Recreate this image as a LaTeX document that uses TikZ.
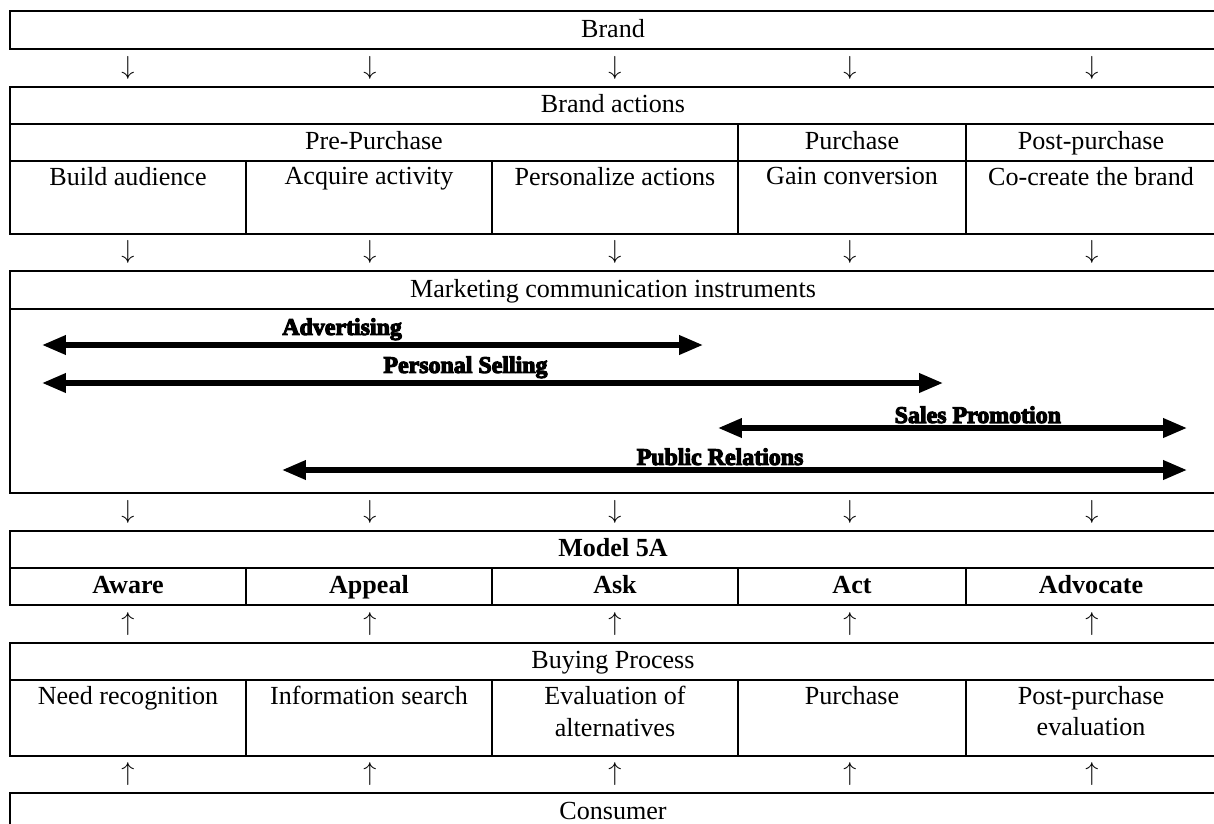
\documentclass[tikz,border=0pt]{standalone}
\usepackage{fontspec}
\setmainfont{Liberation Serif}
\newfontfamily\heavyfont[FakeBold=4.5]{Liberation Serif}
\usetikzlibrary{arrows.meta}

\tikzset{
  cell/.style={font=\fontsize{12}{14.5}\selectfont, inner sep=2pt, text height=9pt, text depth=2.5pt},
  bcell/.style={cell, font=\fontsize{12}{14.5}\selectfont\bfseries},
  tall/.style={font=\fontsize{12}{14.5}\selectfont, inner sep=2pt, anchor=north, align=center},
  flow/.style={font=\fontsize{12}{14.5}\selectfont, inner sep=0pt},
  tool/.style={line width=2.4pt, {Triangle[length=11pt,width=8.5pt]}-{Triangle[length=11pt,width=8.5pt]}},
  toolname/.style={font=\heavyfont\bfseries\fontsize{11}{13}\selectfont, inner sep=1pt, above},
}

\begin{document}
\begin{tikzpicture}[x=0.46pt,y=-0.46pt,line width=0.9pt]
    \useasboundingbox (0,0) rectangle (1214,823);
    \clip (0,0) rectangle (1214,823);

    % Brand
    \draw (10,11) rectangle (1216,49) node[midway,cell] (brand) {Brand};

    % arrows between the blocks
    \foreach \y/\a/\r in {68/\downarrow/a, 252/\downarrow/b, 512/\downarrow/c, 624/\uparrow/d, 774/\uparrow/e} {
        \foreach \x [count=\i] in {128,370,615,850,1092}
            \node[flow] (arr\r\i) at (\x,\y) {$\a$};
    }

    % Brand actions
    \draw (10,87) rectangle (1216,124) node[midway,cell] (actions) {Brand actions};
    \draw (10,124) rectangle (738,161) node[midway,cell] (prebuy) {Pre-Purchase};
    \draw (738,124) rectangle (966,161) node[midway,cell] (buy) {Purchase};
    \draw (966,124) rectangle (1216,161) node[midway,cell] (postbuy) {Post-purchase};
    \foreach \xa/\xb/\txt [count=\i] in {10/246/Build audience, 246/492/Acquire activity, 492/738/Personalize actions, 738/966/Gain conversion, 966/1216/Co-create the brand} {
        \draw (\xa,161) rectangle (\xb,234);
        \node[tall] (act\i) at ({(\xa+\xb)/2},162) {\txt};
    }

    % Marketing communication instruments
    \draw (10,271) rectangle (1216,309) node[midway,cell] (mci) {Marketing communication instruments};
    \draw (10,309) rectangle (1216,493);
    \coordinate (adv1) at (42,345);  \coordinate (adv2) at (703,345);
    \coordinate (sell1) at (42,383); \coordinate (sell2) at (943,383);
    \coordinate (prom1) at (718,428); \coordinate (prom2) at (1187,428);
    \coordinate (pr1) at (282,470);  \coordinate (pr2) at (1187,470);
    \draw[tool] (adv1) -- (adv2) node[toolname, pos=0.454] (adv) {Advertising};
    \draw[tool] (sell1) -- (sell2) node[toolname, pos=0.47] (sell) {Personal Selling};
    \draw[tool] (prom1) -- (prom2) node[toolname, pos=0.554] (prom) {Sales Promotion};
    \draw[tool] (pr1) -- (pr2) node[toolname, pos=0.484] (pr) {Public Relations};

    % Model 5A
    \draw (10,531) rectangle (1216,568) node[midway,bcell] (model) {Model 5A};
    \foreach \xa/\xb/\txt [count=\i] in {10/246/Aware, 246/492/Appeal, 492/738/Ask, 738/966/Act, 966/1216/Advocate} {
        \draw (\xa,568) rectangle (\xb,605);
        \node[bcell] (stage\i) at ({(\xa+\xb)/2},586.5) {\txt};
    }

    % Buying process
    \draw (10,643) rectangle (1216,680) node[midway,cell] (process) {Buying Process};
    \foreach \xa/\xb/\txt [count=\i] in {10/246/Need recognition, 246/492/Information search, 492/738/{Evaluation of\\alternatives}, 738/966/Purchase, 966/1216/{Post-purchase\\evaluation}} {
        \draw (\xa,680) rectangle (\xb,756);
        \node[tall] (step\i) at ({(\xa+\xb)/2},681) {\txt};
    }

    % Consumer
    \draw (10,793) rectangle (1216,831) node[midway,cell] (consumer) {Consumer};
\end{tikzpicture}
\end{document}
